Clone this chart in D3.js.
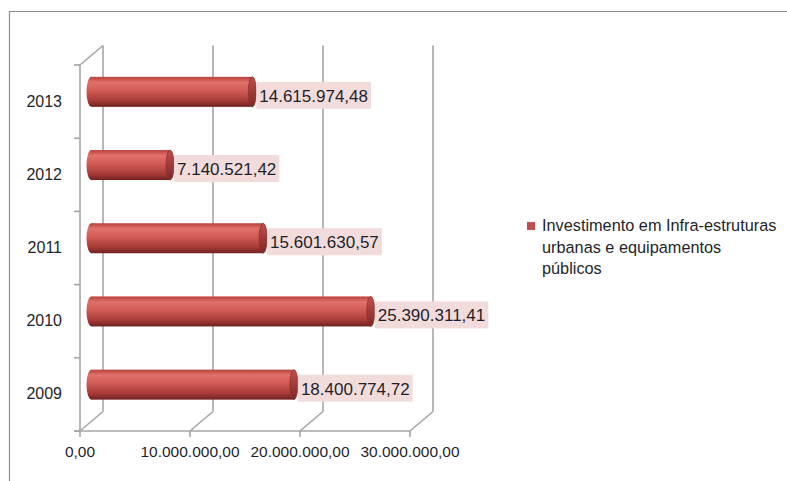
<!DOCTYPE html>
<html>
<head>
<meta charset="UTF-8">
<script src="https://cdn.jsdelivr.net/npm/d3@7"></script>
<style>
body { margin: 0; background: #fff; }
text { font-family: "Liberation Sans", Arial, sans-serif; fill: #1f1f2a; }
</style>
</head>
<body>
<script>
var years = ["2009", "2010", "2011", "2012", "2013"];
var values = [18400774.72, 25390311.41, 15601630.57, 7140521.42, 14615974.48];
var labels = ["18.400.774,72", "25.390.311,41", "15.601.630,57", "7.140.521,42", "14.615.974,48"];
var ticks = [0, 10000000, 20000000, 30000000];
var tickLabels = ["0,00", "10.000.000,00", "20.000.000,00", "30.000.000,00"];
var seriesName = ["Investimento em Infra-estruturas", "urbanas  e equipamentos", "públicos"];

var Width = 787, Height = 481;
var dx = 23, dy = -19.5;   // depth of the 3d box
var gridColor = "#a6a6a6";

var svg = d3.select("body").append("svg")
    .attr("width", Width)
    .attr("height", Height);

// frame (only top and left show)
svg.append("path")
    .attr("d", "M9.5,481 V11.5 H787")
    .attr("fill", "none")
    .attr("stroke", "#8c8c8c")
    .attr("stroke-width", 1.2);

var x = d3.scaleLinear().domain([0, 30000000]).range([80, 410]);
var y = d3.scaleBand().domain(years.slice().reverse()).range([65, 431]);

var defs = svg.append("defs");
var grad = defs.append("linearGradient").attr("id", "cyl")
    .attr("x1", 0).attr("y1", 0).attr("x2", 0).attr("y2", 1);
grad.append("stop").attr("offset", "0%").attr("stop-color", "#b8403c");
grad.append("stop").attr("offset", "18%").attr("stop-color", "#e0716b");
grad.append("stop").attr("offset", "45%").attr("stop-color", "#d35c57");
grad.append("stop").attr("offset", "80%").attr("stop-color", "#a53a36");
grad.append("stop").attr("offset", "100%").attr("stop-color", "#6e2220");

var capGrad = defs.append("linearGradient").attr("id", "cap")
    .attr("x1", 0).attr("y1", 0).attr("x2", 0).attr("y2", 1);
capGrad.append("stop").attr("offset", "0%").attr("stop-color", "#c0504d");
capGrad.append("stop").attr("offset", "100%").attr("stop-color", "#7d2826");

var grid = svg.append("g")
    .attr("stroke", gridColor)
    .attr("stroke-width", 1.6)
    .attr("fill", "none");

// back wall vertical gridlines
grid.selectAll("line.back")
    .data(ticks)
    .enter()
    .append("line")
    .attr("x1", function(d){ return x(d) + dx; })
    .attr("x2", function(d){ return x(d) + dx; })
    .attr("y1", 65 + dy)
    .attr("y2", 431 + dy);

// floor diagonals
grid.selectAll("line.floor")
    .data(ticks)
    .enter()
    .append("line")
    .attr("x1", function(d){ return x(d); })
    .attr("x2", function(d){ return x(d) + dx; })
    .attr("y1", 431)
    .attr("y2", 431 + dy);

// left wall
grid.append("path")
    .attr("d", "M" + x(0) + ",431 V65 L" + (x(0) + dx) + "," + (65 + dy));

// front bottom axis
grid.append("line")
    .attr("x1", x(0) - 6).attr("x2", x(30000000))
    .attr("y1", 431).attr("y2", 431);
grid.selectAll("line.xt")
    .data(ticks)
    .enter()
    .append("line")
    .attr("x1", function(d){ return x(d); })
    .attr("x2", function(d){ return x(d); })
    .attr("y1", 431).attr("y2", 437);

// left axis ticks at category borders
var borders = years.map(function(d){ return y(d); }).concat([431]);
grid.selectAll("line.yt")
    .data(borders)
    .enter()
    .append("line")
    .attr("x1", x(0) - 6).attr("x2", x(0))
    .attr("y1", function(d){ return d; })
    .attr("y2", function(d){ return d; });

// tick labels
svg.selectAll("text.xl")
    .data(ticks)
    .enter()
    .append("text")
    .attr("x", function(d){ return x(d); })
    .attr("y", 457)
    .attr("text-anchor", "middle")
    .attr("font-size", "15.5px")
    .text(function(d, i){ return tickLabels[i]; });

svg.selectAll("text.yl")
    .data(years)
    .enter()
    .append("text")
    .attr("x", 62)
    .attr("y", function(d){ return y(d) + y.bandwidth() / 2 + 5; })
    .attr("text-anchor", "end")
    .attr("font-size", "16px")
    .text(function(d){ return d; });

// bars (cylinders at mid depth)
var bh = 30;
var mx = function(v){ return x(v) + dx / 2; };
var cy = function(i){ return y(years[i]) + y.bandwidth() / 2 + dy / 2; };

var bars = svg.selectAll("g.bar")
    .data(values)
    .enter()
    .append("g");

bars.append("rect")
    .attr("x", mx(0))
    .attr("y", function(d, i){ return cy(i) - bh / 2; })
    .attr("width", function(d){ return mx(d) - mx(0); })
    .attr("height", bh)
    .attr("fill", "url(#cyl)");

bars.append("ellipse")
    .attr("cx", mx(0))
    .attr("cy", function(d, i){ return cy(i); })
    .attr("rx", 5)
    .attr("ry", bh / 2)
    .attr("fill", "url(#cyl)");

bars.append("ellipse")
    .attr("cx", function(d){ return mx(d); })
    .attr("cy", function(d, i){ return cy(i); })
    .attr("rx", 4)
    .attr("ry", bh / 2)
    .attr("fill", "url(#cap)")
    .attr("stroke", "#8e2f2c")
    .attr("stroke-width", 0.8);

// value labels
bars.each(function(d, i){
    var g = d3.select(this);
    var bx = mx(d) + 4;
    var t = g.append("text")
        .attr("x", bx + 3)
        .attr("y", cy(i) + 10)
        .attr("font-size", "17px")
        .attr("fill", "#1f1f1f")
        .text(labels[i]);
    var w = t.node().getComputedTextLength();
    g.insert("rect", "text")
        .attr("x", bx)
        .attr("y", cy(i) - 10)
        .attr("width", w + 6)
        .attr("height", 27)
        .attr("fill", "#f2dcdb");
});

// legend
var legend = svg.append("g");
legend.append("rect")
    .attr("x", 527).attr("y", 222)
    .attr("width", 8).attr("height", 8)
    .attr("fill", "#c0504d");
legend.selectAll("text")
    .data(seriesName)
    .enter()
    .append("text")
    .attr("x", 542)
    .attr("y", function(d, i){ return 231 + i * 21.5; })
    .attr("font-size", "16.3px")
    .text(function(d){ return d; });
</script>
</body>
</html>
